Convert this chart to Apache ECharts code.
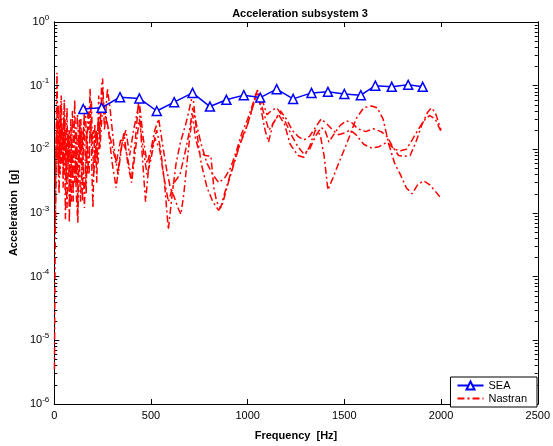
<!DOCTYPE html>
<html>
<head>
<meta charset="utf-8">
<script src="https://cdn.jsdelivr.net/npm/echarts@6/dist/echarts.min.js"></script>
<style>
  html, body { margin: 0; padding: 0; background: #fff; }
  #main { width: 553px; height: 446px; }
</style>
</head>
<body>
<div id="main"></div>
<script>
// SEA result, one value per band
var seaFreq = [150, 245, 340, 440, 530, 620, 715, 805, 890, 980, 1065, 1150, 1235, 1330, 1415, 1500, 1585, 1660, 1745, 1830, 1905];
var seaAccel = [0.043, 0.045, 0.066, 0.063, 0.040, 0.055, 0.077, 0.047, 0.060, 0.071, 0.065, 0.088, 0.062, 0.077, 0.080, 0.074, 0.071, 0.100, 0.096, 0.103, 0.096];

// Nastran responses (3 nodes), [freq, accel]
var nastran1 = [
  [1, 3.5e-6], [4, 1.5e-4], [7, 0.0015], [10, 0.02], [14, 0.16], [18, 0.02], [22, 0.004], [26, 0.03], [30, 0.008],
  [34, 0.05], [38, 0.006], [42, 0.02], [46, 0.0025], [50, 0.04], [54, 0.007], [58, 0.0008], [62, 0.012], [66, 0.045],
  [70, 0.006], [74, 0.018], [78, 0.0007], [82, 0.009], [86, 0.03], [90, 0.004], [94, 0.012], [98, 0.0015], [102, 0.02],
  [106, 0.06], [110, 0.01], [114, 0.003], [118, 0.015], [122, 0.0007], [126, 0.004], [130, 0.02], [134, 0.006],
  [138, 0.03], [142, 0.004], [146, 0.0015], [150, 0.01], [155, 0.035], [160, 0.008], [165, 0.002], [170, 0.012],
  [175, 0.045], [180, 0.02], [185, 0.09], [190, 0.03], [195, 0.004], [200, 0.0012], [205, 0.006], [210, 0.025],
  [215, 0.01], [220, 0.003], [225, 0.02], [230, 0.07], [235, 0.015], [240, 0.04], [245, 0.1], [250, 0.13], [255, 0.05],
  [260, 0.05], [290, 0.015], [320, 0.006], [345, 0.015], [370, 0.01], [400, 0.0035], [420, 0.015], [437, 0.06],
  [455, 0.008], [472, 0.0015], [490, 0.006], [510, 0.012], [530, 0.02], [550, 0.01], [570, 0.003], [590, 0.00055],
  [610, 0.002], [630, 0.006], [650, 0.012], [680, 0.025], [700, 0.045], [716, 0.075], [735, 0.02], [760, 0.006],
  [790, 0.0025], [820, 0.0015], [850, 0.0011], [870, 0.0014], [900, 0.003], [930, 0.006], [960, 0.012], [990, 0.02],
  [1020, 0.04], [1045, 0.08], [1065, 0.05], [1090, 0.02], [1108, 0.013], [1130, 0.025], [1160, 0.035], [1190, 0.025],
  [1220, 0.012], [1260, 0.008], [1290, 0.0075], [1320, 0.011], [1350, 0.02], [1375, 0.017], [1395, 0.008],
  [1415, 0.0023], [1440, 0.0035], [1470, 0.006], [1500, 0.01], [1530, 0.017], [1560, 0.03], [1600, 0.045],
  [1640, 0.048], [1670, 0.045], [1700, 0.03], [1730, 0.012], [1760, 0.006], [1790, 0.004], [1820, 0.0025],
  [1850, 0.002], [1880, 0.0028], [1910, 0.0032], [1940, 0.0028], [1970, 0.0022], [2000, 0.0017]
];
var nastran2 = [
  [5, 0.0005], [10, 0.01], [15, 0.04], [20, 0.008], [25, 0.002], [30, 0.015], [36, 0.07], [42, 0.012], [48, 0.004],
  [54, 0.03], [60, 0.008], [66, 0.0012], [72, 0.006], [78, 0.02], [84, 0.005], [90, 0.0015], [96, 0.007], [102, 0.025],
  [108, 0.008], [114, 0.002], [120, 0.0009], [126, 0.008], [132, 0.03], [138, 0.009], [144, 0.02], [150, 0.006],
  [156, 0.0012], [162, 0.005], [168, 0.02], [174, 0.007], [180, 0.004], [186, 0.03], [192, 0.06], [198, 0.01],
  [204, 0.004], [210, 0.008], [218, 0.02], [226, 0.006], [234, 0.015], [242, 0.05], [250, 0.09], [260, 0.02],
  [275, 0.09], [290, 0.04], [310, 0.01], [330, 0.004], [350, 0.012], [370, 0.02], [390, 0.008], [410, 0.02],
  [440, 0.055], [460, 0.015], [480, 0.006], [500, 0.01], [520, 0.02], [540, 0.03], [560, 0.012], [580, 0.005],
  [600, 0.0025], [620, 0.0018], [640, 0.0012], [655, 0.00095], [670, 0.002], [690, 0.008], [705, 0.02], [716, 0.035],
  [730, 0.015], [750, 0.009], [780, 0.008], [810, 0.0078], [825, 0.0025], [840, 0.0015], [860, 0.0012], [880, 0.002],
  [910, 0.004], [940, 0.008], [970, 0.015], [1000, 0.025], [1030, 0.05], [1050, 0.085], [1075, 0.06], [1100, 0.035],
  [1120, 0.04], [1150, 0.045], [1175, 0.035], [1200, 0.025], [1230, 0.016], [1260, 0.011], [1290, 0.0085],
  [1320, 0.01], [1350, 0.016], [1380, 0.022], [1400, 0.02], [1420, 0.013], [1450, 0.018], [1480, 0.024],
  [1510, 0.028], [1540, 0.026], [1570, 0.021], [1610, 0.019], [1650, 0.021], [1690, 0.019], [1720, 0.016],
  [1750, 0.011], [1780, 0.008], [1810, 0.0078], [1840, 0.008], [1870, 0.013], [1900, 0.024], [1930, 0.038],
  [1950, 0.045], [1970, 0.038], [2000, 0.02]
];
var nastran3 = [
  [5, 0.003], [12, 0.02], [18, 0.006], [24, 0.05], [30, 0.004], [38, 0.025], [45, 0.01], [52, 0.06], [58, 0.015],
  [64, 0.003], [70, 0.02], [76, 0.008], [82, 0.0012], [88, 0.006], [94, 0.04], [100, 0.012], [106, 0.003], [112, 0.01],
  [120, 0.035], [128, 0.01], [136, 0.0015], [144, 0.007], [152, 0.025], [160, 0.05], [166, 0.015], [172, 0.004],
  [180, 0.009], [188, 0.025], [196, 0.012], [204, 0.02], [212, 0.006], [220, 0.012], [228, 0.03], [236, 0.01],
  [244, 0.025], [252, 0.06], [260, 0.04], [280, 0.02], [300, 0.006], [320, 0.0025], [340, 0.008], [360, 0.018],
  [380, 0.006], [400, 0.003], [420, 0.01], [440, 0.03], [460, 0.01], [480, 0.004], [500, 0.007], [520, 0.015],
  [545, 0.01], [565, 0.004], [590, 0.0015], [620, 0.003], [650, 0.004], [680, 0.01], [700, 0.02], [716, 0.045],
  [735, 0.025], [760, 0.012], [790, 0.006], [820, 0.004], [850, 0.003], [880, 0.0035], [910, 0.005], [940, 0.009],
  [970, 0.018], [1000, 0.03], [1030, 0.055], [1055, 0.075], [1080, 0.04], [1110, 0.02], [1140, 0.028], [1170, 0.04],
  [1200, 0.03], [1230, 0.02], [1260, 0.016], [1290, 0.014], [1320, 0.016], [1350, 0.022], [1380, 0.03], [1410, 0.025],
  [1440, 0.02], [1470, 0.017], [1500, 0.018], [1530, 0.02], [1560, 0.017], [1600, 0.012], [1640, 0.0105],
  [1680, 0.011], [1720, 0.013], [1760, 0.01], [1790, 0.0095], [1820, 0.01], [1850, 0.014], [1880, 0.02],
  [1910, 0.028], [1940, 0.034], [1970, 0.03], [2000, 0.019]
];

var xTicks = [0, 500, 1000, 1500, 2000, 2500];

var myChart = echarts.init(document.getElementById('main'));

// minor log ticks 2..9 per decade
var minorTicks = [];
for (var d = -6; d < 0; d++) {
  for (var m = 2; m <= 9; m++) minorTicks.push(m * Math.pow(10, d));
}
var majorTicks = [1e-6, 1e-5, 1e-4, 1e-3, 1e-2, 1e-1, 1];

var font = 'Liberation Sans, Arial, Helvetica, sans-serif';

function logAxis(pos, ticks, len, labels) {
  return {
    type: 'log', logBase: 10, min: 1e-6, max: 1, position: pos,
    axisLine: { show: true, onZero: false, lineStyle: { color: '#000', width: 1 } },
    axisTick: { show: true, inside: true, length: len, customValues: ticks, lineStyle: { color: '#000' } },
    axisLabel: labels ? {
      show: true, customValues: majorTicks, color: '#000', fontFamily: font, fontSize: 11, margin: 5,
      formatter: function (v) {
        var e = Math.round(Math.log10(v));
        return '10{e|' + e + '}';
      },
      rich: { e: { fontSize: 8, fontFamily: font, color: '#000', padding: [0, 0, 9, 0] } }
    } : { show: false },
    splitLine: { show: false },
    name: labels ? 'Acceleration  [g]' : '',
    nameLocation: 'middle', nameGap: 30,
    nameTextStyle: { fontFamily: font, fontSize: 11, fontWeight: 'bold', color: '#000' }
  };
}

function linAxis(pos, labels) {
  return {
    type: 'value', min: 0, max: 2500, interval: 500, position: pos,
    axisLine: { show: true, onZero: false, lineStyle: { color: '#000', width: 1 } },
    axisTick: { show: true, inside: true, length: 5, customValues: xTicks, lineStyle: { color: '#000' } },
    axisLabel: {
      show: labels, color: '#000', fontFamily: font, fontSize: 11, margin: 6,
      formatter: function (v) { return String(v); }
    },
    splitLine: { show: false },
    name: labels ? 'Frequency  [Hz]' : '',
    nameLocation: 'middle', nameGap: 26,
    nameTextStyle: { fontFamily: font, fontSize: 11, fontWeight: 'bold', color: '#000' }
  };
}

var nastranStyle = {
  type: 'line', name: 'Nastran', showSymbol: false, symbol: 'none', smooth: false,
  lineStyle: { color: '#ff0000', width: 1.5, type: [7, 3, 2, 3] },
  itemStyle: { color: '#ff0000' },
  xAxisIndex: 0, yAxisIndex: 0, z: 2
};

var option = {
  backgroundColor: '#fff',
  animation: false,
  title: {
    text: 'Acceleration subsystem 3', left: 295, top: 3, textAlign: 'center',
    textStyle: { fontFamily: font, fontSize: 11, fontWeight: 'bold', color: '#000' }
  },
  grid: { left: 49, right: 12, top: 22, bottom: 37, containLabel: false },
  legend: {
    orient: 'vertical', right: 16, bottom: 39,
    backgroundColor: '#fff', borderColor: '#000', borderWidth: 1,
    padding: [3, 10, 3, 6], itemGap: 2, itemWidth: 26, itemHeight: 10,
    textStyle: { fontFamily: font, fontSize: 11, color: '#000' },
    data: [
      { name: 'SEA' },
      { name: 'Nastran', itemStyle: { color: 'rgba(0,0,0,0)', borderWidth: 0, opacity: 0 } }
    ]
  },
  xAxis: [linAxis('bottom', true), linAxis('top', false)],
  yAxis: [
    logAxis('left', majorTicks, 5, true),
    logAxis('right', majorTicks, 5, false),
    logAxis('left', minorTicks, 3, false),
    logAxis('right', minorTicks, 3, false)
  ],
  series: [
    Object.assign({}, nastranStyle, { data: nastran1 }),
    Object.assign({}, nastranStyle, { data: nastran2 }),
    Object.assign({}, nastranStyle, { data: nastran3 }),
    {
      type: 'line', name: 'SEA',
      data: seaFreq.map(function (f, i) { return [f, seaAccel[i]]; }),
      symbol: 'triangle', symbolSize: 9, showSymbol: true,
      lineStyle: { color: '#0000ff', width: 1.5 },
      itemStyle: { color: '#fff', borderColor: '#0000ff', borderWidth: 1.5 },
      xAxisIndex: 0, yAxisIndex: 0, z: 5
    }
  ]
};
myChart.setOption(option);
</script>
</body>
</html>
